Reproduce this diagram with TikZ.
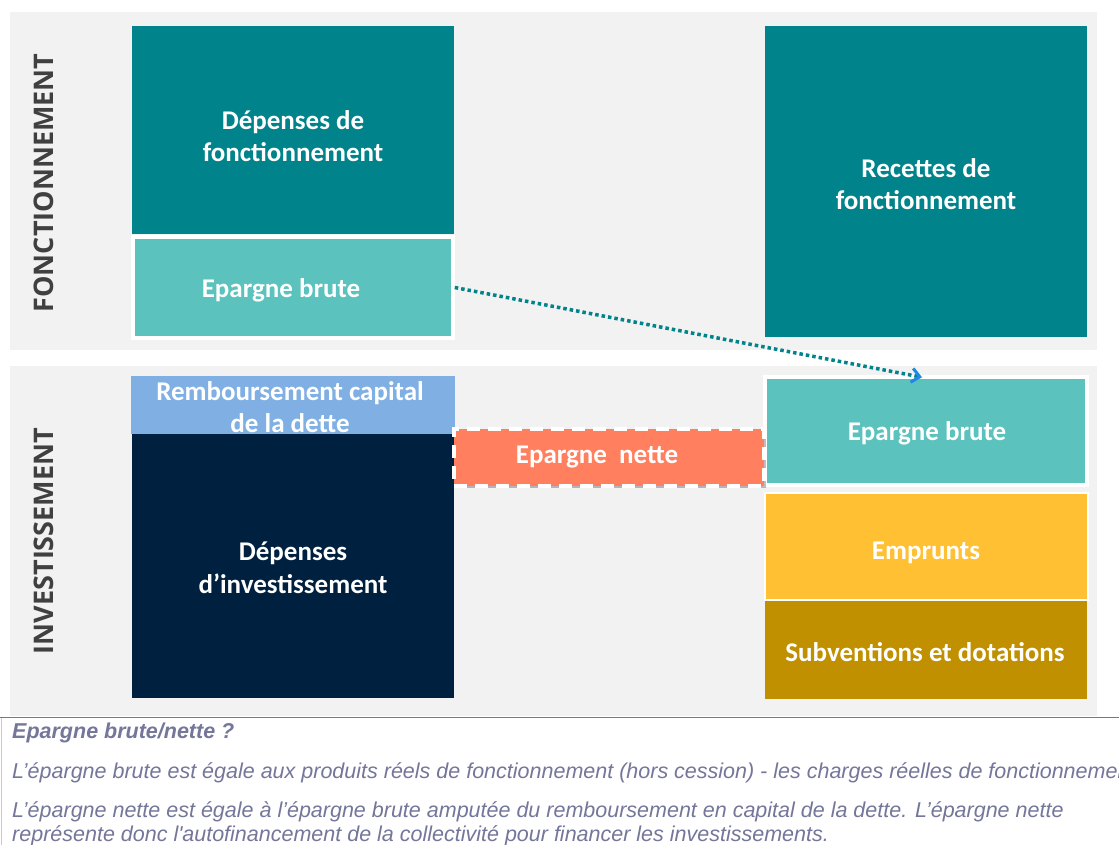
\documentclass[tikz,border=0pt]{standalone}
\usepackage{fontspec}
\setmainfont{Carlito}
\newfontfamily\narrowfont{Liberation Sans}
\newfontfamily\labelfont{Open Sans}
\usetikzlibrary{shadows,arrows.meta}
\definecolor{panel}{HTML}{F2F2F2}
\definecolor{tealdark}{HTML}{00838A}
\definecolor{teallight}{HTML}{5BC2BE}
\definecolor{rembblue}{HTML}{80AFE3}
\definecolor{navy}{HTML}{00203F}
\definecolor{coral}{HTML}{FF7F5E}
\definecolor{yellowbox}{HTML}{FFC034}
\definecolor{goldbox}{HTML}{C09000}
\definecolor{sidelabel}{HTML}{404040}
\definecolor{notetext}{HTML}{74769A}
\definecolor{noteline}{HTML}{4F81BD}
\definecolor{arrowblue}{HTML}{1E88E5}
\tikzset{
  box/.style={rectangle, inner sep=0pt, text=white, align=center,
    font=\bfseries\fontsize{27}{32.5}\selectfont},
  framed/.style={box, draw=white, line width=3.5pt,
    drop shadow={shadow xshift=1.5pt, shadow yshift=-2pt, opacity=0.25, fill=black}},
  sidetext/.style={rotate=90, text=sidelabel, font=\labelfont\bfseries\fontsize{27}{30}\selectfont},
  note/.style={anchor=west, inner sep=0pt, text=notetext, font=\narrowfont\itshape\fontsize{21.5}{25}\selectfont},
}
\begin{document}
\begin{tikzpicture}[x=1pt,y=-1pt]
\useasboundingbox (0,0) rectangle (1119,845);
\clip (0,0) rectangle (1119,845);
\fill[white] (0,0) rectangle (1119,845);
% panels
\fill[panel] (10,12) rectangle (1097,350);
\fill[panel] (10,366) rectangle (1097,716);
% side labels
\node[sidetext] (lf) at (44,183) {FONCTIONNEMENT};
\node[sidetext] (li) at (44,541) {INVESTISSEMENT};
% top boxes
\node[box, fill=tealdark, minimum width=322pt, minimum height=208pt] (depf) at (293,130) {};
\node[box] (depft) at (293,136) {Dépenses de\\fonctionnement};
\node[framed, fill=teallight, minimum width=320pt, minimum height=101pt] (ebl) at (293,287.5) {};
\node[box] (eblt) at (281,290) {Epargne brute};
\node[box, fill=tealdark, minimum width=322pt, minimum height=311pt] (recf) at (926,181.5) {};
\node[box] (recft) at (926,184) {Recettes de\\fonctionnement};
% bottom left
\node[box, fill=rembblue, minimum width=324pt, minimum height=58pt] (remb) at (293,405) {};
\node[box, fill=navy, minimum width=322pt, minimum height=264pt] (depi) at (293,566) {};
\node[box] (rembt) at (290,407) {Remboursement capital\\de la dette};
\node[box] (depit) at (293,568) {Dépenses\\d’investissement};
% right bottom
\node[box, draw=white, line width=1.5pt, fill=yellowbox, minimum width=323pt, minimum height=107pt] (emp) at (926.5,546.5) {};
\node[box] (empt) at (926,553) {Emprunts};
\node[box, fill=goldbox, minimum width=322pt, minimum height=98pt] (sub) at (926,650) {};
\node[box] (subt) at (925,652) {Subventions et dotations};
\node[framed, fill=teallight, minimum width=322pt, minimum height=108pt] (ebr) at (926,431) {};
\node[box] (ebrt) at (927,433) {Epargne brute};
% epargne nette
\node[box, fill=coral, draw=white, line width=4pt, dash pattern=on 13pt off 8pt,
  minimum width=310pt, minimum height=57pt,
  drop shadow={shadow xshift=1.5pt, shadow yshift=-2pt, opacity=0.25, fill=black}] (en) at (609,457) {};
\node[box] (ent) at (597,457) {Epargne\ \ nette};
% arrow
\draw[tealdark, line width=3.5pt, dash pattern=on 3.5pt off 3pt,
  -{Straight Barb[arrowblue, length=8pt, width=14pt, line width=3pt]}]
  (ebl.east) -- ([xshift=-4pt,yshift=-2pt]ebr.north);
% note box
\draw[noteline, line width=1.5pt] (0,717.5) -- (1119,717.5);
\draw[noteline!40, line width=1pt] (1,718) -- (1,845);
\node[note, font=\narrowfont\bfseries\itshape\fontsize{21.5}{25}\selectfont] (n1) at (12,733) {Epargne brute/nette ?};
\node[note] (n2) at (12,773) {L’épargne brute est égale aux produits réels de fonctionnement (hors cession) - les charges réelles de fonctionnement.};
\node[note] (n3) at (12,812) {L’épargne nette est égale à l’épargne brute amputée du remboursement en capital de la dette. L’épargne nette};
\node[note] (n4) at (12,836) {représente donc l'autofinancement de la collectivité pour financer les investissements.};
\end{tikzpicture}
\end{document}
